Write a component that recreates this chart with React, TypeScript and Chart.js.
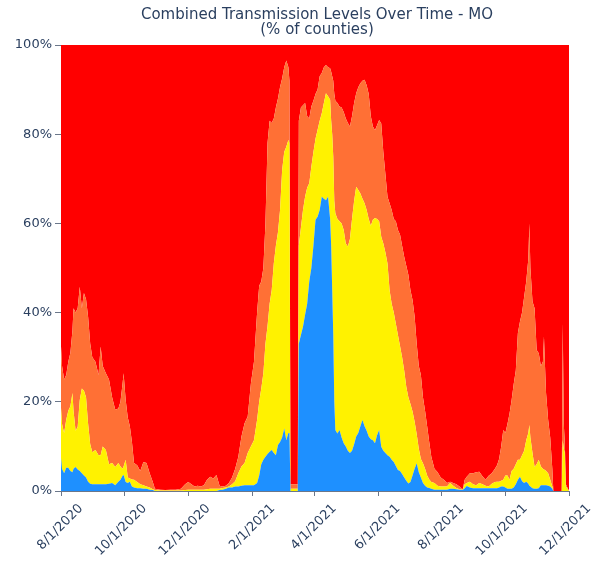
import React, { useEffect, useRef } from 'react';
import { Chart, registerables } from 'chart.js';

Chart.register(...registerables);

const TITLE_LINES = ['Combined Transmission Levels Over Time - MO', '(% of counties)'];

// days since 8/1/2020
const dayOffsets = [
  0, 1, 3, 5, 7, 9, 11, 12, 14, 16,
  18, 20, 22, 24, 26, 28, 30, 33, 36, 38,
  40, 43, 46, 49, 52, 55, 57, 59, 60, 62,
  64, 66, 68, 70, 73, 76, 79, 82, 85, 88,
  90, 95, 100, 105, 110, 115, 119, 122, 125, 128,
  131, 134, 137, 140, 143, 146, 149, 152, 155, 158,
  161, 164, 167, 170, 173, 176, 179, 182, 185, 188,
  190, 192, 194, 196, 198, 200, 202, 204, 206, 208,
  210, 212, 214, 216, 218, 219, 220, 227, 228, 230,
  232, 234, 236, 238, 240, 242, 244, 246, 248, 250,
  252, 254, 256, 258, 259, 260, 261, 262, 263, 265,
  267, 269, 271, 273, 275, 277, 279, 281, 283, 285,
  287, 289, 291, 293, 295, 297, 299, 301, 303, 305,
  307, 309, 311, 313, 315, 317, 319, 321, 323, 325,
  327, 329, 331, 333, 335, 337, 339, 341, 343, 345,
  347, 349, 351, 353, 355, 358, 361, 364, 367, 370,
  373, 376, 379, 382, 385, 387, 389, 392, 395, 398,
  401, 404, 407, 410, 413, 416, 418, 420, 422, 424,
  426, 428, 430, 432, 434, 436, 438, 440, 442, 444,
  446, 448, 449, 450, 452, 454, 456, 458, 460, 462,
  463, 464, 465, 467, 469, 471, 472, 480, 481, 482,
  483, 484, 487,
];

const low = [
  7.4, 5, 4, 5.2, 5.2, 4.5, 4.2, 5, 5.4, 4.8,
  4.5, 4, 3.5, 3, 2.1, 1.6, 1.5, 1.5, 1.5, 1.5,
  1.5, 1.5, 1.6, 1.8, 1.3, 2.1, 2.5, 3.4, 3.6, 2,
  1.8, 2.1, 1, 0.8, 0.6, 0.6, 0.5, 0.5, 0.3, 0.2,
  0, 0, 0, 0, 0, 0, 0, 0, 0, 0,
  0, 0, 0, 0, 0, 0, 0, 0.2, 0.3, 0.5,
  0.8, 0.8, 1, 1, 1.2, 1.3, 1.3, 1.3, 1.3, 1.8,
  3.5, 6, 7, 7.7, 8.3, 8.8, 9.2, 8.5, 8, 10.3,
  11, 12, 14, 11.4, 13, 13, 0, 0, 33, 35,
  36.8, 39.5, 42, 47, 50, 55, 60.8, 61.5, 63, 66,
  65.5, 65.2, 66, 61, 55, 45, 35, 20, 13.7, 12.9,
  13.7, 12, 10.7, 10, 9, 8.5, 9, 10.5, 12.2, 13,
  14.5, 15.9, 14.5, 13.5, 12.2, 11.6, 11.4, 10.7, 12.5, 13.7,
  9.9, 9, 8.5, 8, 7.7, 7, 6.5, 5.6, 4.7, 4.5,
  3.8, 3, 2.3, 1.7, 2, 3.5, 5, 6.2, 4.2, 3,
  1.8, 1.2, 0.8, 0.7, 0.5, 0.3, 0.3, 0.3, 0.3, 0.3,
  0.5, 0.5, 0.4, 0.3, 0.2, 0.6, 1.1, 0.8, 0.6, 0.6,
  0.6, 0.6, 0.6, 0.6, 0.6, 0.6, 0.6, 0.8, 1, 1,
  0.8, 0.5, 0.5, 0.5, 0.8, 1.5, 2.5, 3.2, 2.2, 1.8,
  2.1, 1.6, 1.2, 1, 0.6, 0.5, 0.5, 0.6, 1.3, 1.3,
  1.3, 1.3, 1.3, 1.2, 1, 0.5, 0, 0, 0, 0,
  0, 0, 0,
];

const moderate = [
  11.2, 10, 9, 10.8, 12.8, 14.5, 17.8, 13, 8.1, 9.6,
  15.9, 19, 19, 18, 12.9, 8.9, 7.2, 7.7, 6.5, 6.5,
  8.5, 7.7, 4.4, 4.5, 4.1, 4.2, 3, 1.6, 1.9, 5,
  1.2, 0.7, 1.6, 1.7, 1.4, 0.9, 0.8, 0.5, 0.5, 0.2,
  0.2, 0.1, 0.1, 0.1, 0.1, 0.1, 0.2, 0.3, 0.3, 0.3,
  0.3, 0.3, 0.3, 0.4, 0.5, 0.5, 0.5, 0.3, 0.4, 0.3,
  0.2, 0.7, 1.2, 3, 4.3, 5, 7.2, 8.7, 10.1, 14.2,
  16.5, 17, 19.4, 25.3, 28.7, 33.2, 35.8, 42.5, 47, 47.7,
  52, 60, 62, 65.8, 65.7, 65, 0.5, 0.5, 22, 24,
  26.2, 26.5, 26, 22, 22.7, 21, 18.2, 19.5, 20, 18.7,
  21.5, 24, 22.5, 26.7, 28, 35, 40, 45, 48.6, 48.1,
  46.8, 48, 47.8, 45.5, 45.8, 48, 52, 54.5, 56, 54.5,
  52.2, 49.6, 50, 49.5, 48.8, 47.9, 49.4, 50.5, 48.5, 46.8,
  47.1, 46.5, 45, 43, 37.3, 35, 33.5, 31.9, 30.3, 28,
  26.2, 24, 21.1, 19.3, 17.5, 14.3, 10.5, 6.5, 5.3, 4.2,
  4.4, 3.8, 2.7, 1.9, 1.5, 1.5, 0.9, 0.7, 0.7, 0.7,
  1.3, 0.7, 0.3, 0.1, 0.1, 0.9, 0.7, 1.3, 0.9, 0.7,
  1.2, 0.9, 0.6, 0.4, 1, 1.4, 1.5, 1.3, 1.3, 1.5,
  2.7, 3, 2, 4, 4.2, 4.5, 4.5, 3.8, 5.8, 7.2,
  9.3, 11.4, 13.6, 11, 7.9, 4.9, 5.5, 6.4, 4.2, 3.7,
  3.5, 3.4, 3.2, 2.8, 1.5, 0.5, 0, 0, 11.4, 9.5,
  8.5, 1, 0,
];

const substantial = [
  13.8, 13, 12, 10, 11, 12, 14, 23, 26.5, 26.6,
  25.4, 18, 21.9, 22, 24, 22.5, 21.3, 19.8, 18, 24.4,
  18, 17.2, 19, 14.7, 12.8, 12.2, 14.5, 19, 20.9, 13.4,
  13.5, 11.7, 8.4, 3.8, 3.8, 3, 5.2, 5.3, 3.2, 1.6,
  0.3, 0.2, 0.1, 0.2, 0.2, 0.4, 1.3, 1.7, 1.2, 0.7,
  0.9, 0.7, 1, 2.1, 2.7, 2.3, 3.1, 0.7, 0.3, 0.4,
  0.8, 1.5, 2.8, 3.7, 6.7, 8.9, 8.2, 14, 17.6, 24,
  26, 24, 23.6, 27, 41, 41, 37.5, 32.5, 31, 30,
  27.6, 20.5, 19, 19.3, 16.3, 14, 1, 1, 28, 27,
  23.5, 21, 16, 14.5, 13.5, 11.5, 10, 9, 10, 9,
  8, 6.3, 6.5, 7.1, 11, 13, 17, 24, 25.2, 26,
  25.7, 26, 26.5, 28, 27.7, 25.2, 23, 22, 21, 23,
  24.7, 26.5, 27.7, 28, 28, 24.5, 20.9, 19.7, 21, 22.7,
  25.4, 20.5, 17.5, 15, 19.5, 21, 21, 23, 23.5, 25,
  25, 25.5, 27.1, 27.5, 25.5, 25, 23.6, 20.3, 18.5, 18.8,
  14.8, 13, 11, 8.4, 5.7, 3.2, 3, 2, 1.5, 0.8,
  0.3, 0.6, 0.8, 0.6, 0, 1, 1.4, 1.9, 2.5, 2.9,
  2.5, 1.8, 1.3, 2.4, 2.4, 3, 3.7, 5.1, 7.7, 11.2,
  9.5, 11.5, 14.9, 15.9, 19, 21, 28.4, 31, 32, 34.5,
  35.6, 39, 45.2, 38, 34, 35.6, 25.6, 23.9, 22.5, 24,
  29.8, 23.3, 17.5, 12, 9.5, 4, 0, 0, 26.2, 5.5,
  2.2, 0.5, 0,
];

const high = [
  67.6, 72, 75, 74, 71, 69, 64, 59, 60, 59,
  54.2, 59, 55.6, 57, 61, 67, 70, 71, 74, 67.6,
  72, 73.6, 75, 79, 81.8, 81.5, 80, 76, 73.6, 79.6,
  83.5, 85.5, 89, 93.7, 94.2, 95.5, 93.5, 93.7, 96, 98,
  99.5, 99.7, 99.8, 99.7, 99.7, 99.5, 98.5, 98, 98.5, 99,
  98.8, 99, 98.7, 97.5, 96.8, 97.2, 96.4, 98.8, 99, 98.8,
  98.2, 97, 95, 92.3, 87.8, 84.8, 83.3, 76, 71, 60,
  54, 53, 50, 40, 22, 17, 17.5, 16.5, 14, 12,
  9.4, 7.5, 5, 3.5, 5, 8, 98.5, 98.5, 17, 14,
  13.5, 13, 16, 16.5, 13.8, 12.5, 11, 10, 7, 6.3,
  5, 4.5, 5, 5.2, 6, 7, 8, 11, 12.5, 13,
  13.8, 14, 15, 16.5, 17.5, 18.3, 16, 13, 10.8, 9.5,
  8.6, 8, 7.8, 9, 11, 16, 18.3, 19.1, 18, 16.8,
  17.6, 24, 29, 34, 35.5, 37, 39, 39.5, 41.5, 42.5,
  45, 47.5, 49.5, 51.5, 55, 57.2, 60.9, 67, 72, 74,
  79, 82, 85.5, 89, 92.3, 95, 95.8, 97, 97.5, 98.2,
  97.9, 98.2, 98.5, 99, 99.7, 97.5, 96.8, 96, 96, 95.8,
  95.7, 96.7, 97.5, 96.6, 96, 95, 94.2, 92.8, 90, 86.3,
  87, 85, 82.6, 79.6, 76, 73, 64.6, 62, 60, 56.5,
  53, 48, 40, 50, 57.5, 59, 68.4, 69.1, 72, 71,
  65.4, 72, 78, 84, 88, 95, 100, 100, 62.4, 85,
  89.3, 98.5, 100,
];

const seriesNames = ['Low', 'Moderate', 'Substantial', 'High'];
const seriesColors = ['#1E90FF', '#FFF200', '#FF7035', '#FF0000'];

const tickDays = [0, 61, 122, 184, 243, 304, 365, 426, 487];
const tickLabels = ['8/1/2020', '10/1/2020', '12/1/2020', '2/1/2021', '4/1/2021', '6/1/2021', '8/1/2021', '10/1/2021', '12/1/2021'];
const yTicks = [0, 20, 40, 60, 80, 100];

const TEXT = '#2a3f5f';
const AXIS = '#6b778a';
const FONT = '"DejaVu Sans", sans-serif';

const titlePlugin = {
  id: 'twoLineTitle',
  afterDraw(chart: any) {
    const { ctx, chartArea } = chart;
    ctx.save();
    ctx.font = `15px ${FONT}`;
    ctx.fillStyle = TEXT;
    ctx.textAlign = 'center';
    ctx.textBaseline = 'alphabetic';
    const cx = (chartArea.left + chartArea.right) / 2 + 2;
    TITLE_LINES.forEach((t, i) => ctx.fillText(t, cx, 18.5 + i * 15));
    ctx.restore();
  },
};

export default function App() {
  const ref = useRef<HTMLCanvasElement | null>(null);

  useEffect(() => {
    if (!ref.current) return;
    Chart.defaults.font.family = FONT;
    const seriesValues = [low, moderate, substantial, high];
    const chart = new Chart(ref.current, {
      type: 'line',
      data: {
        datasets: seriesValues.map((vals, k) => ({
          label: seriesNames[k],
          data: dayOffsets.map((d, i) => ({ x: d, y: vals[i] })),
          backgroundColor: seriesColors[k],
          borderColor: seriesColors[k],
          borderWidth: 0,
          pointRadius: 0,
          pointHoverRadius: 0,
          tension: 0,
          fill: k === 0 ? 'origin' : '-1',
        })),
      },
      options: {
        animation: false,
        responsive: false,
        maintainAspectRatio: false,
        devicePixelRatio: 1,
        layout: { padding: { top: 45, right: 33, left: 0, bottom: 0 } },
        plugins: {
          legend: { display: false },
          tooltip: { enabled: false },
          title: { display: false },
        },
        scales: {
          x: {
            type: 'linear',
            min: 0,
            max: 487,
            z: 1,
            afterBuildTicks: (s: any) => {
              s.ticks = tickDays.map((v) => ({ value: v }));
            },
            afterFit: (s: any) => {
              s.height = 71;
              s.paddingLeft = 0;
              s.paddingRight = 0;
            },
            grid: { display: true, drawOnChartArea: false, drawTicks: true, tickLength: 5, tickColor: AXIS },
            border: { display: true, color: AXIS, width: 1 },
            ticks: {
              autoSkip: false,
              minRotation: 45,
              maxRotation: 45,
              labelOffset: 20,
              padding: 5,
              color: TEXT,
              font: { size: 13, family: FONT },
              callback: (v: any) => {
                const i = tickDays.indexOf(Number(v));
                return i >= 0 ? tickLabels[i] : '';
              },
            },
          },
          y: {
            stacked: true,
            min: 0,
            max: 100,
            afterBuildTicks: (s: any) => {
              s.ticks = yTicks.map((v) => ({ value: v }));
            },
            afterFit: (s: any) => {
              s.width = 61;
            },
            grid: { display: true, drawOnChartArea: false, drawTicks: true, tickLength: 6, tickColor: AXIS },
            border: { display: false },
            ticks: {
              padding: 3,
              color: TEXT,
              font: { size: 13, family: FONT },
              callback: (v: any) => `${v}%`,
            },
          },
        },
      },
      plugins: [titlePlugin],
    } as any);
    return () => chart.destroy();
  }, []);

  return (
    <div style={{ position: 'absolute', left: 0, top: 0, width: 602, height: 562, background: '#fff' }}>
      <canvas ref={ref} width={602} height={562} style={{ display: 'block', width: 602, height: 562 }} />
    </div>
  );
}
